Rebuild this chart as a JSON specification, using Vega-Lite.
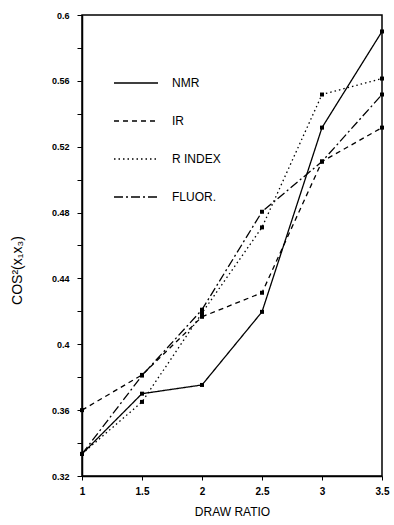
{
  "$schema": "https://vega.github.io/schema/vega-lite/v6.json",
  "width": 300,
  "height": 461,
  "autosize": "none",
  "padding": {"left": 82, "top": 15, "right": 12, "bottom": 49},
  "background": "white",
  "config": {
    "view": {"stroke": "black", "strokeWidth": 1.5},
    "font": "Liberation Sans"
  },
  "data": {
    "values": [
      {"ratio": 1, "series": "NMR", "cos2": 0.3334},
      {"ratio": 1.5, "series": "NMR", "cos2": 0.370},
      {"ratio": 2, "series": "NMR", "cos2": 0.3753},
      {"ratio": 2.5, "series": "NMR", "cos2": 0.4197},
      {"ratio": 3, "series": "NMR", "cos2": 0.5316},
      {"ratio": 3.5, "series": "NMR", "cos2": 0.590},
      {"ratio": 1, "series": "IR", "cos2": 0.360},
      {"ratio": 1.5, "series": "IR", "cos2": 0.3814},
      {"ratio": 2, "series": "IR", "cos2": 0.4167},
      {"ratio": 2.5, "series": "IR", "cos2": 0.4313},
      {"ratio": 3, "series": "IR", "cos2": 0.511},
      {"ratio": 3.5, "series": "IR", "cos2": 0.5316},
      {"ratio": 1, "series": "R INDEX", "cos2": 0.3334},
      {"ratio": 1.5, "series": "R INDEX", "cos2": 0.365},
      {"ratio": 2, "series": "R INDEX", "cos2": 0.419},
      {"ratio": 2.5, "series": "R INDEX", "cos2": 0.471},
      {"ratio": 3, "series": "R INDEX", "cos2": 0.5517},
      {"ratio": 3.5, "series": "R INDEX", "cos2": 0.5614},
      {"ratio": 1, "series": "FLUOR.", "cos2": 0.3334},
      {"ratio": 1.5, "series": "FLUOR.", "cos2": 0.381},
      {"ratio": 2, "series": "FLUOR.", "cos2": 0.421},
      {"ratio": 2.5, "series": "FLUOR.", "cos2": 0.4805},
      {"ratio": 3, "series": "FLUOR.", "cos2": 0.511},
      {"ratio": 3.5, "series": "FLUOR.", "cos2": 0.5517}
    ]
  },
  "encoding": {
    "x": {
      "field": "ratio", "type": "quantitative",
      "scale": {"domain": [1, 3.5], "nice": false, "zero": false},
      "axis": {
        "values": [1, 1.5, 2, 2.5, 3, 3.5],
        "format": "~g",
        "title": "DRAW RATIO",
        "titleFont": "Liberation Sans",
        "titleFontSize": 12, "titleFontWeight": "normal",
        "titleColor": "black", "titlePadding": 10,
        "labelFontSize": 10, "labelFontWeight": "bold", "labelColor": "black",
        "labelFlush": false, "labelPadding": 6,
        "domainColor": "black", "domainWidth": 1.5,
        "tickColor": "black", "tickSize": 4, "grid": false
      }
    },
    "y": {
      "field": "cos2", "type": "quantitative",
      "scale": {"domain": [0.32, 0.6], "nice": false, "zero": false},
      "axis": {
        "values": [0.32, 0.34, 0.36, 0.38, 0.4, 0.42, 0.44, 0.46, 0.48, 0.5, 0.52, 0.54, 0.56, 0.58, 0.6],
        "labelExpr": "(round(datum.value*100) % 4 == 0) ? format(datum.value, '~g') : ''",
        "title": "COS²(x₁x₃)",
        "titleFont": "Liberation Sans",
        "titleFontSize": 14, "titleFontWeight": "normal", "titleColor": "black",
        "titleX": -58, "titleY": 255, "titleAngle": 270, "titleAlign": "center", "titleBaseline": "bottom",
        "labelFontSize": 9, "labelFontWeight": "bold", "labelColor": "black",
        "labelFlush": false, "labelPadding": 8,
        "domainColor": "black", "domainWidth": 1.5,
        "tickColor": "black", "tickSize": 5, "grid": false
      }
    }
  },
  "layer": [
    {
      "mark": {"type": "line", "color": "black", "strokeWidth": 1.3},
      "encoding": {
        "strokeDash": {
          "field": "series", "type": "nominal",
          "scale": {
            "domain": ["NMR", "IR", "R INDEX", "FLUOR."],
            "range": [[1, 0], [5, 4], [1.5, 3], [9, 3, 2, 3]]
          },
          "legend": {
            "title": null,
            "orient": "none",
            "legendX": 31,
            "legendY": 45,
            "symbolType": "stroke",
            "symbolSize": 1936,
            "symbolStrokeColor": "black",
            "symbolStrokeWidth": 1.3,
            "labelFontSize": 12,
            "labelColor": "black",
            "labelOffset": 13,
            "rowPadding": 9
          }
        }
      }
    },
    {
      "mark": {"type": "point", "shape": "square", "filled": true, "color": "black", "size": 16, "opacity": 1}
    }
  ]
}
